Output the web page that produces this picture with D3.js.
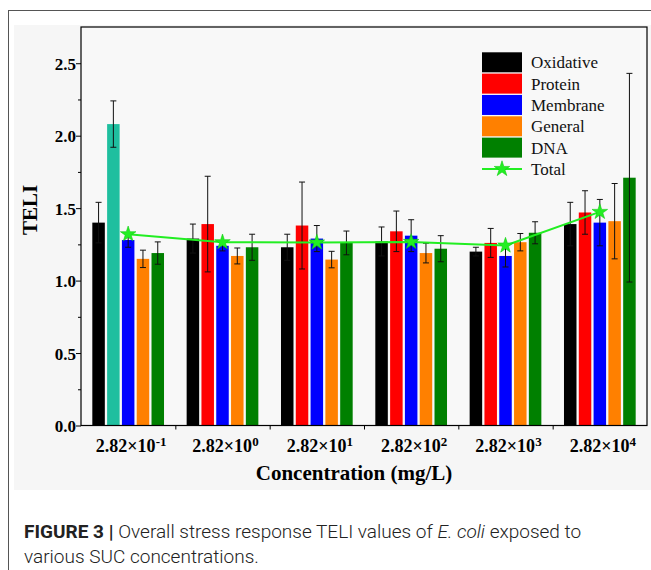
<!DOCTYPE html>
<html><head><meta charset="utf-8">
<script src="https://cdn.jsdelivr.net/npm/d3@7"></script>
<style>body{margin:0;background:#fff;}svg{display:block;}</style>
</head><body>
<svg id="c" width="651" height="570"></svg>
<script>
// ---- data ----
const categories = ["-1", "0", "1", "2", "3", "4"]; // exponents of 2.82×10^n
const seriesNames = ["Oxidative", "Protein", "Membrane", "General", "DNA"];
const oxidative = [1.40, 1.29, 1.23, 1.27, 1.20, 1.39];
const oxidativeErr = [0.14, 0.10, 0.09, 0.10, 0.03, 0.15];
const protein = [2.08, 1.39, 1.38, 1.34, 1.26, 1.47];
const proteinErr = [0.16, 0.33, 0.30, 0.14, 0.10, 0.15];
const membrane = [1.28, 1.24, 1.29, 1.31, 1.17, 1.40];
const membraneErr = [0.05, 0.035, 0.09, 0.11, 0.076, 0.16];
const general = [1.15, 1.17, 1.145, 1.19, 1.265, 1.41];
const generalErr = [0.06, 0.055, 0.057, 0.068, 0.06, 0.26];
const dna = [1.19, 1.23, 1.26, 1.22, 1.33, 1.71];
const dnaErr = [0.077, 0.09, 0.082, 0.09, 0.076, 0.72];
const total = [1.32, 1.265, 1.263, 1.267, 1.242, 1.474];
const yTicks = [0, 0.5, 1.0, 1.5, 2.0, 2.5];

const values = [oxidative, protein, membrane, general, dna];
const errors = [oxidativeErr, proteinErr, membraneErr, generalErr, dnaErr];
const colors = ["#000000", "#ff0000", "#0000ff", "#ff8000", "#008000"];
const tealFirst = "#1fbf9f";
const lineColor = "#22ee22";

const svg = d3.select("#c");
const L = 81, R = 647, T = 27, B = 425.5;

// background + frame
svg.append("rect").attr("x", 14).attr("y", 25).attr("width", 637).attr("height", 465).attr("fill", "#f6f6f6");
svg.append("rect").attr("x", 8.5).attr("y", 10.5).attr("width", 700).attr("height", 700)
  .attr("fill", "none").attr("stroke", "#555").attr("stroke-width", 1);

const y = d3.scaleLinear().domain([0, 2.75]).range([B, T]);
const x0 = d3.scaleBand().domain(categories).range([L, R]).padding(0);
const bw = x0.bandwidth();
const x1 = d3.scaleBand().domain(seriesNames).range([bw / 2 - 35.85, bw / 2 + 35.85]).paddingInner(0.155).paddingOuter(0);

svg.append("rect").attr("x", L).attr("y", T).attr("width", R - L).attr("height", B - T).attr("fill", "#f8f8f8");

const g = svg.append("g");
categories.forEach((c, i) => {
  seriesNames.forEach((s, k) => {
    const v = values[k][i];
    const xb = x0(c) + x1(s);
    g.append("rect").attr("x", xb).attr("y", y(v)).attr("width", x1.bandwidth()).attr("height", y(0) - y(v))
      .attr("fill", (k === 1 && i === 0) ? tealFirst : colors[k]);
  });
});
// error bars
categories.forEach((c, i) => {
  seriesNames.forEach((s, k) => {
    const v = values[k][i], e = errors[k][i];
    const cx = x0(c) + x1(s) + x1.bandwidth() / 2;
    const eg = g.append("g").attr("stroke", "#111").attr("stroke-width", 1);
    eg.append("line").attr("x1", cx).attr("x2", cx).attr("y1", y(v + e)).attr("y2", y(v - e));
    eg.append("line").attr("x1", cx - 3).attr("x2", cx + 3).attr("y1", y(v + e)).attr("y2", y(v + e));
    eg.append("line").attr("x1", cx - 3).attr("x2", cx + 3).attr("y1", y(v - e)).attr("y2", y(v - e));
  });
});

// total line
const tx = (c) => x0(c) + x1("Membrane") + x1.bandwidth() / 2;
const line = d3.line().x((d, i) => tx(categories[i])).y(d => y(d));
svg.append("path").datum(total).attr("d", line).attr("fill", "none").attr("stroke", lineColor).attr("stroke-width", 2);
const star = d3.symbol().type(d3.symbolStar).size(75);
total.forEach((v, i) => {
  svg.append("path").attr("d", star).attr("transform", `translate(${tx(categories[i])},${y(v)})`)
    .attr("fill", lineColor).attr("stroke", "#11cc11").attr("stroke-width", 0.6);
});

// axes
const yAxis = svg.append("g").attr("transform", `translate(${L},0)`)
  .call(d3.axisLeft(y).tickValues(yTicks).tickFormat(d3.format(".1f")).tickSize(5).tickSizeOuter(0));
yAxis.select(".domain").remove();
yAxis.selectAll("text").attr("font-family", "Liberation Serif").attr("font-weight", "bold").attr("font-size", 17)
  .attr("fill", "#000").attr("x", -5).attr("dy", "0.36em");
yAxis.selectAll("line").attr("stroke", "#000");
const yMinor = svg.append("g").attr("transform", `translate(${L},0)`)
  .call(d3.axisLeft(y).tickValues([0.25, 0.75, 1.25, 1.75, 2.25]).tickFormat("").tickSize(3).tickSizeOuter(0));
yMinor.select(".domain").remove();
yMinor.selectAll("line").attr("stroke", "#000");

const xAxis = svg.append("g").attr("transform", `translate(0,${B})`)
  .call(d3.axisBottom(d3.scaleLinear().domain([L, R]).range([L, R]))
    .tickValues(categories.slice(1).map(c => x0(c))).tickFormat("").tickSize(4).tickSizeOuter(0));
xAxis.select(".domain").remove();
xAxis.selectAll("line").attr("stroke", "#000");

// plot box
svg.append("rect").attr("x", L).attr("y", T).attr("width", R - L).attr("height", B - T)
  .attr("fill", "none").attr("stroke", "#000").attr("stroke-width", 1.2);

// x tick labels
categories.forEach((c) => {
  const t = svg.append("text").attr("x", x0(c) + bw / 2 + 3).attr("y", 452).attr("text-anchor", "middle")
    .attr("font-family", "Liberation Serif").attr("font-weight", "bold").attr("font-size", 18).attr("fill", "#000");
  t.append("tspan").text("2.82×10");
  t.append("tspan").attr("dy", -6).attr("font-size", 13).text(c);
});

// axis titles
svg.append("text").attr("x", 354).attr("y", 480).attr("text-anchor", "middle")
  .attr("font-family", "Liberation Serif").attr("font-weight", "bold").attr("font-size", 21).attr("fill", "#000")
  .text("Concentration (mg/L)");
svg.append("text").attr("transform", "translate(37,210) rotate(-90)").attr("text-anchor", "middle")
  .attr("font-family", "Liberation Serif").attr("font-weight", "bold").attr("font-size", 21).attr("fill", "#000")
  .text("TELI");

// legend
const lg = svg.append("g");
seriesNames.forEach((s, k) => {
  const yy = 52.3 + k * 21.33;
  lg.append("rect").attr("x", 482).attr("y", yy).attr("width", 40).attr("height", 20).attr("fill", colors[k]);
  lg.append("text").attr("x", 531).attr("y", yy + 16).attr("font-family", "Liberation Serif").attr("font-size", 17)
    .attr("fill", "#111").text(s);
});
const ty = 52.3 + 5 * 21.33 + 10;
lg.append("line").attr("x1", 482).attr("x2", 522).attr("y1", ty).attr("y2", ty).attr("stroke", lineColor).attr("stroke-width", 2);
lg.append("path").attr("d", star).attr("transform", `translate(502,${ty})`).attr("fill", lineColor).attr("stroke", "#11cc11").attr("stroke-width", 0.6);
lg.append("text").attr("x", 531).attr("y", ty + 6).attr("font-family", "Liberation Serif").attr("font-size", 17)
  .attr("fill", "#111").text("Total");

// caption
const cap1 = svg.append("text").attr("x", 24).attr("y", 538).attr("font-family", "Roboto").attr("font-size", 19).attr("fill", "#222");
cap1.append("tspan").attr("font-weight", "bold").text("FIGURE 3 | ");
cap1.append("tspan").attr("font-weight", 300).text("Overall stress response TELI values of ");
cap1.append("tspan").attr("font-weight", 300).attr("font-style", "italic").text("E. coli");
cap1.append("tspan").attr("font-weight", 300).text(" exposed to");
svg.append("text").attr("x", 24).attr("y", 563).attr("font-family", "Roboto").attr("font-weight", 300).attr("font-size", 19)
  .attr("fill", "#222").text("various SUC concentrations.");
</script>
</body></html>
